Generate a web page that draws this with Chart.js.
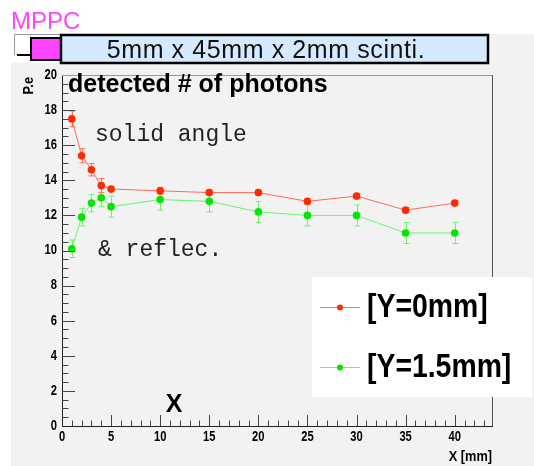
<!DOCTYPE html>
<html>
<head>
<meta charset="utf-8">
<script src="https://cdn.jsdelivr.net/npm/chart.js@4/dist/chart.umd.min.js"></script>
<style>
    html, body { margin: 0; padding: 0; background: #ffffff; }
    canvas { display: block; }
</style>
</head>
<body>
<canvas id="chart" width="534" height="466"></canvas>
<script>
// positions along the scintillator (mm)
const xPositions = [1, 2, 3, 4, 5, 10, 15, 20, 25, 30, 35, 40];

// photo-electrons, hit at Y=0mm
const peY0 = [17.5, 15.4, 14.6, 13.7, 13.5, 13.4, 13.3, 13.3, 12.8, 13.1, 12.3, 12.7];
const errY0 = [0.45, 0.4, 0.35, 0.4, 0.15, 0.2, 0.15, 0.15, 0.15, 0.15, 0.15, 0.15];

// photo-electrons, hit at Y=1.5mm
const peY15 = [10.1, 11.9, 12.7, 13.0, 12.5, 12.9, 12.8, 12.2, 12.0, 12.0, 11.0, 11.0];
const errY15 = [0.5, 0.5, 0.5, 0.5, 0.6, 0.6, 0.6, 0.6, 0.6, 0.6, 0.6, 0.6];

const seriesLabels = ["[Y=0mm]", "[Y=1.5mm]"];

const SANS = '"Liberation Sans", Arial, sans-serif';
const MONO = '"Liberation Mono", "DejaVu Sans Mono", monospace';

const RED = "#ff2a00";
const RED_LINE = "#ff6a5a";
const GREEN = "#00e600";
const GREEN_LINE = "#6af56a";

function toPoints(xs, ys) {
    return xs.map((x, i) => ({ x: x, y: ys[i] }));
}

// ROOT uses a narrow helvetica, squeeze the bold sans instead
function narrowText(ctx, text, x, y, size, align, squeeze) {
    ctx.save();
    ctx.font = "bold " + size + "px " + SANS;
    ctx.textAlign = align;
    ctx.translate(x, y);
    ctx.scale(squeeze, 1);
    ctx.fillText(text, 0, 0);
    ctx.restore();
}

const padPlugin = {
    id: "padPlugin",
    beforeDraw: (chart) => {
        const ctx = chart.ctx;
        ctx.save();
        ctx.fillStyle = "#ffffff";
        ctx.fillRect(0, 0, chart.width, chart.height);

        // grey pad
        ctx.fillStyle = "#f2f2f2";
        ctx.fillRect(11, 63, chart.width - 11, chart.height - 63);
        ctx.fillRect(180, 34, chart.width - 180, 30);

        // white holder box behind the sensor
        ctx.fillStyle = "#ffffff";
        ctx.fillRect(14, 34, 166, 21);
        ctx.strokeStyle = "#999999";
        ctx.lineWidth = 1;
        ctx.beginPath();
        ctx.moveTo(14.5, 55);
        ctx.lineTo(14.5, 34.5);
        ctx.lineTo(180, 34.5);
        ctx.stroke();
        ctx.strokeStyle = "#000000";
        ctx.lineWidth = 2;
        ctx.beginPath();
        ctx.moveTo(17, 55);
        ctx.lineTo(32, 55);
        ctx.stroke();

        // MPPC
        ctx.fillStyle = "#ff44ff";
        ctx.fillRect(31, 38, 30, 22);
        ctx.strokeStyle = "#000000";
        ctx.lineWidth = 2;
        ctx.strokeRect(31, 38, 30, 22);

        // scintillator
        ctx.fillStyle = "#d6eaff";
        ctx.fillRect(61, 35, 427, 28);
        ctx.lineWidth = 2.5;
        ctx.strokeRect(61, 35, 427, 28);

        ctx.fillStyle = "#111111";
        ctx.font = "25px " + SANS;
        ctx.textAlign = "center";
        ctx.textBaseline = "alphabetic";
        ctx.letterSpacing = "0.6px";
        ctx.fillText("5mm x 45mm x 2mm scinti.", 266, 58);
        ctx.letterSpacing = "0px";

        ctx.fillStyle = "#ff44ff";
        ctx.font = "24px " + SANS;
        ctx.textAlign = "left";
        ctx.fillText("MPPC", 11, 29);
        ctx.restore();
    },
    beforeDatasetsDraw: (chart) => {
        const ctx = chart.ctx;
        const xs = chart.scales.x;
        const ys = chart.scales.y;
        const sets = [
            { vals: peY15, errs: errY15, color: GREEN_LINE },
            { vals: peY0, errs: errY0, color: RED_LINE },
        ];
        ctx.save();
        ctx.lineWidth = 1;
        sets.forEach((s) => {
            ctx.strokeStyle = s.color;
            xPositions.forEach((x, i) => {
                const px = Math.round(xs.getPixelForValue(x)) + 0.5;
                const top = ys.getPixelForValue(s.vals[i] + s.errs[i]);
                const bot = ys.getPixelForValue(s.vals[i] - s.errs[i]);
                ctx.beginPath();
                ctx.moveTo(px, top);
                ctx.lineTo(px, bot);
                ctx.moveTo(px - 3, top);
                ctx.lineTo(px + 3, top);
                ctx.moveTo(px - 3, bot);
                ctx.lineTo(px + 3, bot);
                ctx.stroke();
            });
        });
        ctx.restore();
    },
    afterDraw: (chart) => {
        const ctx = chart.ctx;
        const area = chart.chartArea;
        const xs = chart.scales.x;
        const ys = chart.scales.y;
        ctx.save();

        // frame top and right
        ctx.lineWidth = 1;
        ctx.strokeStyle = "#9a9a9a";
        ctx.beginPath();
        ctx.moveTo(area.left, area.top + 0.5);
        ctx.lineTo(area.right + 0.5, area.top + 0.5);
        ctx.stroke();
        ctx.strokeStyle = "#555555";
        ctx.beginPath();
        ctx.moveTo(area.right + 0.5, area.top);
        ctx.lineTo(area.right + 0.5, area.bottom);
        ctx.stroke();

        // inner ticks, ROOT style
        ctx.strokeStyle = "#444444";
        ctx.beginPath();
        for (let v = 0.5; v < 20; v += 0.5) {
            const py = Math.round(ys.getPixelForValue(v)) + 0.5;
            const len = v % 2 === 0 ? 13 : 6.5;
            ctx.moveTo(area.left, py);
            ctx.lineTo(area.left + len, py);
        }
        for (let v = 1; v <= 43; v += 1) {
            const px = Math.round(xs.getPixelForValue(v)) + 0.5;
            const len = v % 5 === 0 ? 11 : 5.5;
            ctx.moveTo(px, area.bottom);
            ctx.lineTo(px, area.bottom - len);
        }
        ctx.stroke();

        // tick labels from the library's ticks
        ctx.fillStyle = "#000000";
        ctx.textBaseline = "middle";
        ys.ticks.forEach((t) => {
            narrowText(ctx, String(t.value), area.left - 5, ys.getPixelForValue(t.value), 14, "right", 0.8);
        });
        xs.ticks.forEach((t) => {
            narrowText(ctx, String(t.value), xs.getPixelForValue(t.value), area.bottom + 11, 14, "center", 0.8);
        });

        // titles
        ctx.textBaseline = "alphabetic";
        ctx.font = "bold 25px " + SANS;
        ctx.textAlign = "left";
        ctx.fillText("detected # of photons", 68, 92);

        narrowText(ctx, "X [mm]", area.right, 461, 15, "right", 0.85);

        ctx.save();
        ctx.translate(33, 77);
        ctx.rotate(-Math.PI / 2);
        narrowText(ctx, "P.e", 0, 0, 15, "right", 0.85);
        ctx.restore();

        ctx.font = "bold 25px " + SANS;
        ctx.textAlign = "center";
        ctx.fillText("X", 174, 412);

        // notes
        ctx.fillStyle = "#222222";
        ctx.font = "23px " + MONO;
        ctx.textAlign = "left";
        ctx.fillText("solid angle", 95, 141);
        ctx.fillText("& reflec.", 98, 256);

        // legend
        ctx.fillStyle = "#ffffff";
        ctx.fillRect(312, 277, 220, 120);
        const entries = [
            { y: 307, line: RED_LINE, dot: RED, label: seriesLabels[0] },
            { y: 367, line: GREEN_LINE, dot: GREEN, label: seriesLabels[1] },
        ];
        entries.forEach((e) => {
            ctx.strokeStyle = e.line;
            ctx.lineWidth = 1;
            ctx.beginPath();
            ctx.moveTo(320, e.y + 0.5);
            ctx.lineTo(360, e.y + 0.5);
            ctx.stroke();
            ctx.fillStyle = e.dot;
            ctx.beginPath();
            ctx.arc(340, e.y + 0.5, 3, 0, Math.PI * 2);
            ctx.fill();
            ctx.fillStyle = "#000000";
            ctx.textBaseline = "middle";
            narrowText(ctx, e.label, 367, e.y + 1, 33, "left", 0.86);
        });
        ctx.restore();
    },
};

new Chart(document.getElementById("chart").getContext("2d"), {
    type: "scatter",
    data: {
        datasets: [
            {
                label: seriesLabels[1],
                data: toPoints(xPositions, peY15),
                showLine: true,
                borderColor: GREEN_LINE,
                borderWidth: 1,
                pointBackgroundColor: GREEN,
                pointBorderWidth: 0,
                pointRadius: 3.8,
                tension: 0,
            },
            {
                label: seriesLabels[0],
                data: toPoints(xPositions, peY0),
                showLine: true,
                borderColor: RED_LINE,
                borderWidth: 1,
                pointBackgroundColor: RED,
                pointBorderWidth: 0,
                pointRadius: 3.8,
                tension: 0,
            },
        ],
    },
    options: {
        responsive: false,
        animation: false,
        devicePixelRatio: 1,
        layout: { padding: { left: 0, top: 75, right: 42, bottom: 0 } },
        plugins: {
            legend: { display: false },
            title: { display: false },
            tooltip: { enabled: false },
        },
        scales: {
            x: {
                type: "linear",
                min: 0,
                max: 43.8,
                afterFit: (scale) => { scale.height = 40; },
                grid: { display: false, drawTicks: false },
                border: { display: true, color: "#222222", width: 1 },
                ticks: { stepSize: 5, includeBounds: false, display: false },
            },
            y: {
                min: 0,
                max: 20,
                afterFit: (scale) => { scale.width = 62; },
                grid: { display: false, drawTicks: false },
                border: { display: true, color: "#222222", width: 1 },
                ticks: { stepSize: 2, display: false },
            },
        },
    },
    plugins: [padPlugin],
});
</script>
</body>
</html>
